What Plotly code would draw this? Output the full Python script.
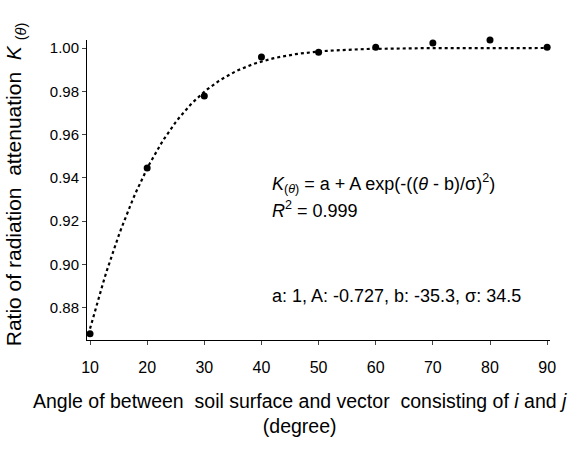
import numpy as np
import plotly.graph_objects as go

# Observed data
angle = [10, 20, 30, 40, 50, 60, 70, 80, 90]
ratio = [0.868, 0.9446, 0.9778, 0.9958, 0.998, 1.0003, 1.0023, 1.0037, 1.0003]

# Fitted model parameters (as printed on chart)
p_a, p_A, p_b, p_sigma = 1.0, -0.727, -35.3, 34.5
fit_theta = np.linspace(10, 90, 161)
fit_k = p_a + p_A * np.exp(-((fit_theta - p_b) / p_sigma) ** 2)

x_ticks = [10, 20, 30, 40, 50, 60, 70, 80, 90]
y_ticks = [0.88, 0.90, 0.92, 0.94, 0.96, 0.98, 1.00]

FONT = "Liberation Sans, Arial, sans-serif"

fig = go.Figure()
fig.add_trace(go.Scatter(x=fit_theta, y=fit_k, mode="lines",
                         line=dict(color="black", width=2.2, dash="dot"),
                         hoverinfo="skip", showlegend=False))
fig.add_trace(go.Scatter(x=angle, y=ratio, mode="markers",
                         marker=dict(color="black", size=7),
                         cliponaxis=False, showlegend=False))

fig.update_layout(
    width=585, height=452,
    margin=dict(l=87, r=35, t=40, b=112),
    plot_bgcolor="white", paper_bgcolor="white",
    font=dict(family=FONT, size=15, color="black"),
    xaxis=dict(range=[9.47, 90.5], tickvals=x_ticks, ticks="outside", ticklen=4,
               showline=True, linecolor="black", linewidth=1, showgrid=False,
               zeroline=False, tickfont=dict(size=16), ticklabelstandoff=9),
    yaxis=dict(range=[0.8651, 1.0037], tickvals=y_ticks, tickformat=".2f",
               ticks="outside", ticklen=4, showline=True, linecolor="black",
               linewidth=1, showgrid=False, zeroline=False, tickfont=dict(size=15)),
)

fig.add_annotation(xref="paper", yref="paper", x=-0.155, y=0.52,
                   text="Ratio of radiation  attenuation  <i>K</i> <sub>(<i>θ</i>)</sub>",
                   textangle=-90, showarrow=False, font=dict(size=21),
                   xanchor="center", yanchor="middle")
fig.add_annotation(xref="paper", yref="paper", x=0.46, y=-0.16,
                   text="Angle of between  soil surface and vector  consisting of <i>i</i> and <i>j</i><br>(degree)",
                   showarrow=False, font=dict(size=19.5), xanchor="center", yanchor="top")
fig.add_annotation(xref="x", yref="y", x=41.5, y=0.9375,
                   text="<i>K</i><sub>(<i>θ</i>)</sub> = a + A exp(-((<i>θ</i> - b)/σ)<sup>2</sup>)",
                   showarrow=False, align="left", xanchor="left", yanchor="middle",
                   font=dict(size=18))
fig.add_annotation(xref="x", yref="y", x=41.5, y=0.9255,
                   text="<i>R</i><sup>2</sup> = 0.999",
                   showarrow=False, align="left", xanchor="left", yanchor="middle",
                   font=dict(size=18))
fig.add_annotation(xref="x", yref="y", x=41.5, y=0.8855,
                   text="a: 1, A: -0.727, b: -35.3, σ: 34.5",
                   showarrow=False, align="left", xanchor="left", yanchor="middle",
                   font=dict(size=18))

fig.write_html("out.html")
